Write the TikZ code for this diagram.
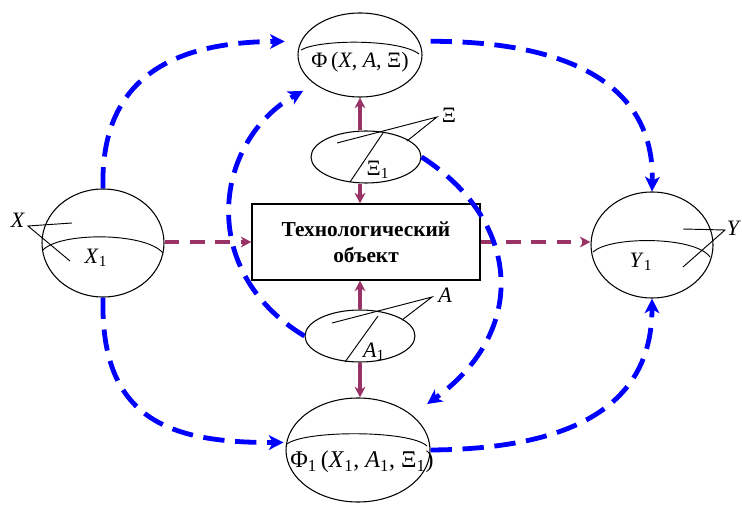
\documentclass[tikz,border=0pt]{standalone}
\usepackage{fontspec}
\setmainfont{Liberation Serif}
\usetikzlibrary{positioning,arrows.meta,shapes.geometric,calc}
\definecolor{objred}{RGB}{153,51,102}
\definecolor{lineblue}{RGB}{0,0,255}

\begin{document}
\begin{tikzpicture}[x=0.75pt, y=-0.75pt,
  ell/.style={ellipse, draw=black, line width=0.8pt, inner sep=0pt},
  objbox/.style={rectangle, draw=black, line width=0.8pt, minimum width=171pt, minimum height=57pt,
    align=center, font=\fontsize{16}{19.5}\selectfont\bfseries},
  lbl/.style={font=\fontsize{16.5}{18}\selectfont, inner sep=1pt},
  ptr/.style={draw=black, line width=0.7pt},
  mline/.style={draw=objred, line width=3pt, -{Stealth[length=8pt,width=8pt,inset=2.5pt]}},
  mdash/.style={mline, dash pattern=on 11pt off 8pt},
  bdash/.style={draw=lineblue, line width=3.6pt, dash pattern=on 16pt off 8pt,
    -{Stealth[length=11pt,width=11pt,inset=3pt]}}
]
\useasboundingbox (0,0) rectangle (742,509);

% ellipses and the object
\node[ell, minimum width=91.5pt, minimum height=81pt] (nX) at (103,243) {};
\node[ell, minimum width=91.5pt, minimum height=79.5pt] (nY) at (652,245) {};
\node[ell, minimum width=93pt, minimum height=63pt] (nF) at (360,55) {};
\node[ell, minimum width=82.5pt, minimum height=39pt] (nXi) at (366,157) {};
\node[ell, minimum width=82.5pt, minimum height=39pt] (nA) at (360,336) {};
\node[ell, minimum width=108pt, minimum height=78pt] (nF1) at (358,450) {};
\node[objbox] (nobj) at (366,242) {Технологический\\объект};

% inner arcs
\draw[ptr] (43,250) .. controls (60,232) and (145,232) .. (163,253);
\draw[ptr] (593,252) .. controls (610,236) and (695,236) .. (710,257);
\draw[ptr] (301,50) .. controls (320,39) and (400,39) .. (419,54);
\draw[ptr] (287,444) .. controls (305,430) and (410,430) .. (427,446);

% labels
\node[lbl] (lX) at (18,220) {\textit{X}};
\node[lbl] (lX1) at (96,258) {\textit{X}\textsubscript{1}};
\node[lbl] (lY) at (734,228) {\textit{Y}};
\node[lbl] (lY1) at (641,262) {\textit{Y}\textsubscript{1}};
\node[lbl] (lF) at (360,62) {Φ\,(\textit{X}, \textit{A}, Ξ)};
\node[lbl] (lXi) at (449,115) {Ξ};
\node[lbl] (lXi1) at (378,170) {Ξ\textsubscript{1}};
\node[lbl] (lA) at (445,295) {\textit{A}};
\node[lbl] (lA1) at (374,352) {\textit{A}\textsubscript{1}};
\node[lbl, font=\fontsize{18}{20}\selectfont] (lF1) at (362,462)
  {Φ\textsubscript{1}\,(\textit{X}\textsubscript{1}, \textit{A}\textsubscript{1}, Ξ\textsubscript{1})};

% pointer lines
\coordinate (pX) at (28,226);
\coordinate (pX2) at (72,223);
\coordinate (pX1) at (70,261);
\coordinate (pY) at (725,230);
\coordinate (pY2) at (683,229);
\coordinate (pY1) at (683,267);
\coordinate (pXi) at (437,117);
\coordinate (pXi2) at (337,143);
\coordinate (pXi3) at (407,141);
\coordinate (sXi) at (383,133);
\coordinate (sXi1) at (350,182);
\coordinate (pA) at (432,297);
\coordinate (pA2) at (332,323);
\coordinate (pA3) at (402,320);
\coordinate (sA) at (378,316);
\coordinate (sA1) at (345,362);
\draw[ptr] (pX2) -- (pX) -- (pX1);
\draw[ptr] (pY2) -- (pY) -- (pY1);
\draw[ptr] (pXi2) -- (pXi) -- (pXi3);
\draw[ptr] (sXi) -- (sXi1);
\draw[ptr] (pA2) -- (pA) -- (pA3);
\draw[ptr] (sA) -- (sA1);

% object flows
\draw[mdash] (nX.east |- nobj.west) -- (nobj.west);
\draw[mdash] (nobj.east) -- (nobj.east -| nY.west);
\draw[mline] (nXi.north -| nF.south) -- (nF.south);
\draw[mline] (nXi.south -| nF.south) -- (nobj.north -| nF.south);
\draw[mline] (nA.north) -- (nobj.south -| nA.north);
\draw[mline] (nA.south) -- (nF1.north -| nA.south);

% model links
\draw[bdash, shorten >=12pt] (nX.north) .. controls (100,80) and (170,42) .. (nF.167);
\draw[bdash, shorten <=8.5pt] (nF.13) .. controls (560,41) and (655,80) .. (nY.north);
\draw[bdash, shorten >=2pt] (nX.south) .. controls (100,420) and (170,443) .. (nF1.174);
\draw[bdash] (nF1.east) .. controls (565,449) and (652,410) .. (nY.south);
\draw[bdash, shorten >=10pt] (nA.west) .. controls (195,270) and (215,140) .. (nF.213);
\draw[bdash, shorten >=14pt] (nXi.east) .. controls (520,220) and (530,330) .. (nF1.33);

\end{tikzpicture}
\end{document}
